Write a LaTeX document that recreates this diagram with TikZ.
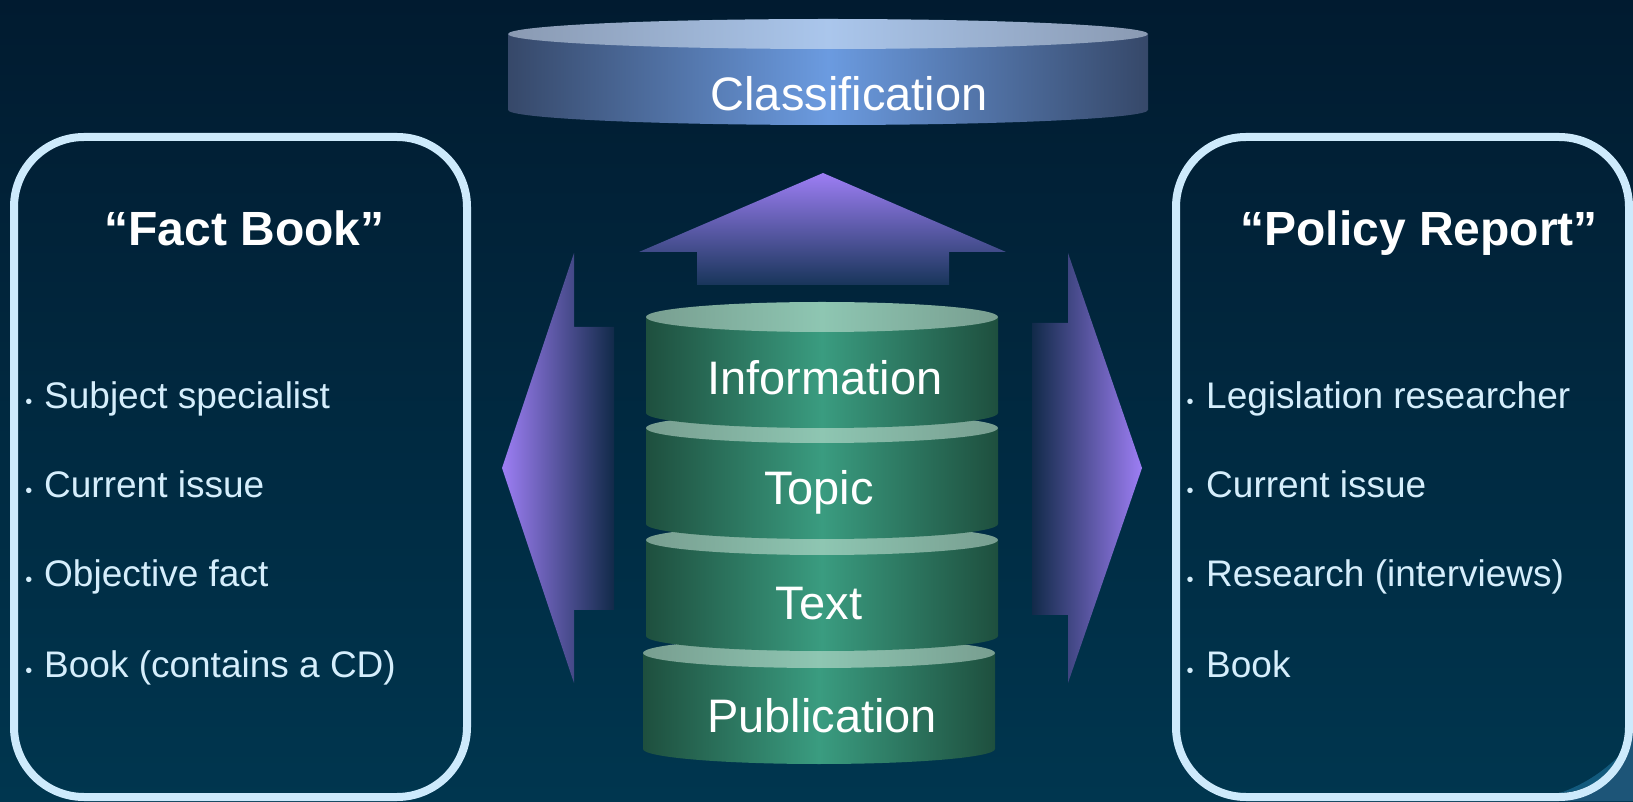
\documentclass[tikz,border=0pt]{standalone}
\usepackage{fontspec}
\setmainfont{Liberation Sans}
\definecolor{bgtop}{HTML}{011B30}
\definecolor{bgbot}{HTML}{00364F}
\definecolor{panelcol}{HTML}{CDEAFC}
\definecolor{itemcol}{HTML}{D5EEFC}
\definecolor{clsEdge}{HTML}{364869}
\definecolor{clsMid}{HTML}{6B9BE0}
\definecolor{clsTopEdge}{HTML}{8A9AB2}
\definecolor{clsTopMid}{HTML}{AAC6EC}
\definecolor{grEdge}{HTML}{1E4F3E}
\definecolor{grMid}{HTML}{3A9C80}
\definecolor{grTopEdge}{HTML}{789E90}
\definecolor{grTopMid}{HTML}{8EC6B2}
\definecolor{arrPurple}{HTML}{9D7EF4}
\definecolor{arrMid}{HTML}{4F5596}
\definecolor{arrDark}{HTML}{112A49}
\definecolor{upDark}{HTML}{18355A}
\definecolor{swoosh}{HTML}{1D5578}
\definecolor{streak}{HTML}{1B6A92}
\newcommand{\mycyl}[9]{%
  \shade[left color=#6, right color=#6, middle color=#7]
    ({#1-#2},#3) -- ({#1-#2},#4)
    arc[start angle=180, end angle=360, x radius=#2pt, y radius=#5pt]
    -- ({#1+#2},#3) -- cycle;
  \shade[left color=#8, right color=#8, middle color=#9]
    (#1,#3) ellipse [x radius=#2pt, y radius=#5pt];
}
\begin{document}
\begin{tikzpicture}[x=1pt,y=1pt,
  lbl/.style={text=white, inner sep=0pt, font=\fontsize{47}{56}\selectfont, anchor=base},
  ttl/.style={text=white, inner sep=0pt, font=\bfseries\fontsize{48}{56}\selectfont, anchor=base},
  itm/.style={text=itemcol, inner sep=0pt, font=\fontsize{37}{44}\selectfont, anchor=base west},
  bul/.style={text=itemcol, inner sep=0pt, font=\fontsize{20}{24}\selectfont, anchor=base},
  panel/.style={draw=panelcol, line width=8pt, rounded corners=70pt},
]
\useasboundingbox (0,0) rectangle (1633,801);
\shade[top color=bgtop, bottom color=bgbot] (0,0) rectangle (1633,801);

% swoosh outside the bottom-right corner
\fill[swoosh] (1559,0) -- (1633,0) -- (1633,74) -- (1629,74)
  arc[start angle=0, end angle=-90, radius=70pt] -- cycle;
\fill[streak, opacity=0.7] (1560,8) .. controls (1590,10) and (1612,26) .. (1622,48)
  .. controls (1606,32) and (1588,18) .. (1560,8) -- cycle;

% panels
\draw[panel] (14,4) rectangle (467,664);
\draw[panel] (1176,4) rectangle (1629,664);

% classification cylinder
\mycyl{828}{320}{767}{691}{15}{clsEdge}{clsMid}{clsTopEdge}{clsTopMid}
\node[lbl] (cls) at (849,690) {Classification};

% up arrow
\shade[top color=arrPurple, bottom color=upDark]
  (823,628) -- (1006,549) -- (949,549) -- (949,516) -- (697,516) -- (697,549) -- (639,549) -- cycle;

% left arrow
\shade[left color=arrPurple, middle color=arrMid, right color=arrDark]
  (502,333) -- (574,548) -- (574,474) -- (614,474) -- (614,191) -- (574,191) -- (574,118) -- cycle;

% right arrow
\shade[left color=arrDark, middle color=arrMid, right color=arrPurple]
  (1142,333) -- (1068,548) -- (1068,478) -- (1032,478) -- (1032,186) -- (1068,186) -- (1068,118) -- cycle;

% stacked green cylinders (bottom first)
\mycyl{819}{176}{148}{52}{15}{grEdge}{grMid}{grTopEdge}{grTopMid}
\mycyl{822}{176}{261}{165}{15}{grEdge}{grMid}{grTopEdge}{grTopMid}
\mycyl{822}{176}{373}{277}{15}{grEdge}{grMid}{grTopEdge}{grTopMid}
\mycyl{822}{176}{484}{388}{15}{grEdge}{grMid}{grTopEdge}{grTopMid}
\node[lbl] (info) at (825,406) {Information};
\node[lbl] (topic) at (819,296) {Topic};
\node[lbl] (text) at (819,181) {Text};
\node[lbl] (pub) at (822,69) {Publication};

% left panel texts
\node[ttl] (fact) at (244.5,555) {“Fact Book”};
\node[bul] (lb1) at (29,392) {•};
\node[itm] (l1) at (44,392) {Subject specialist};
\node[bul] (lb2) at (29,303) {•};
\node[itm] (l2) at (44,303) {Current issue};
\node[bul] (lb3) at (29,214) {•};
\node[itm] (l3) at (44,214) {Objective fact};
\node[bul] (lb4) at (29,124) {•};
\node[itm] (l4) at (44,124) {Book (contains a CD)};

% right panel texts
\node[ttl] (policy) at (1419,555) {“Policy Report”};
\node[bul] (rb1) at (1190,392) {•};
\node[itm] (r1) at (1206,392) {Legislation researcher};
\node[bul] (rb2) at (1190,303) {•};
\node[itm] (r2) at (1206,303) {Current issue};
\node[bul] (rb3) at (1190,214) {•};
\node[itm] (r3) at (1206,214) {Research (interviews)};
\node[bul] (rb4) at (1190,124) {•};
\node[itm] (r4) at (1206,124) {Book};
\end{tikzpicture}
\end{document}
